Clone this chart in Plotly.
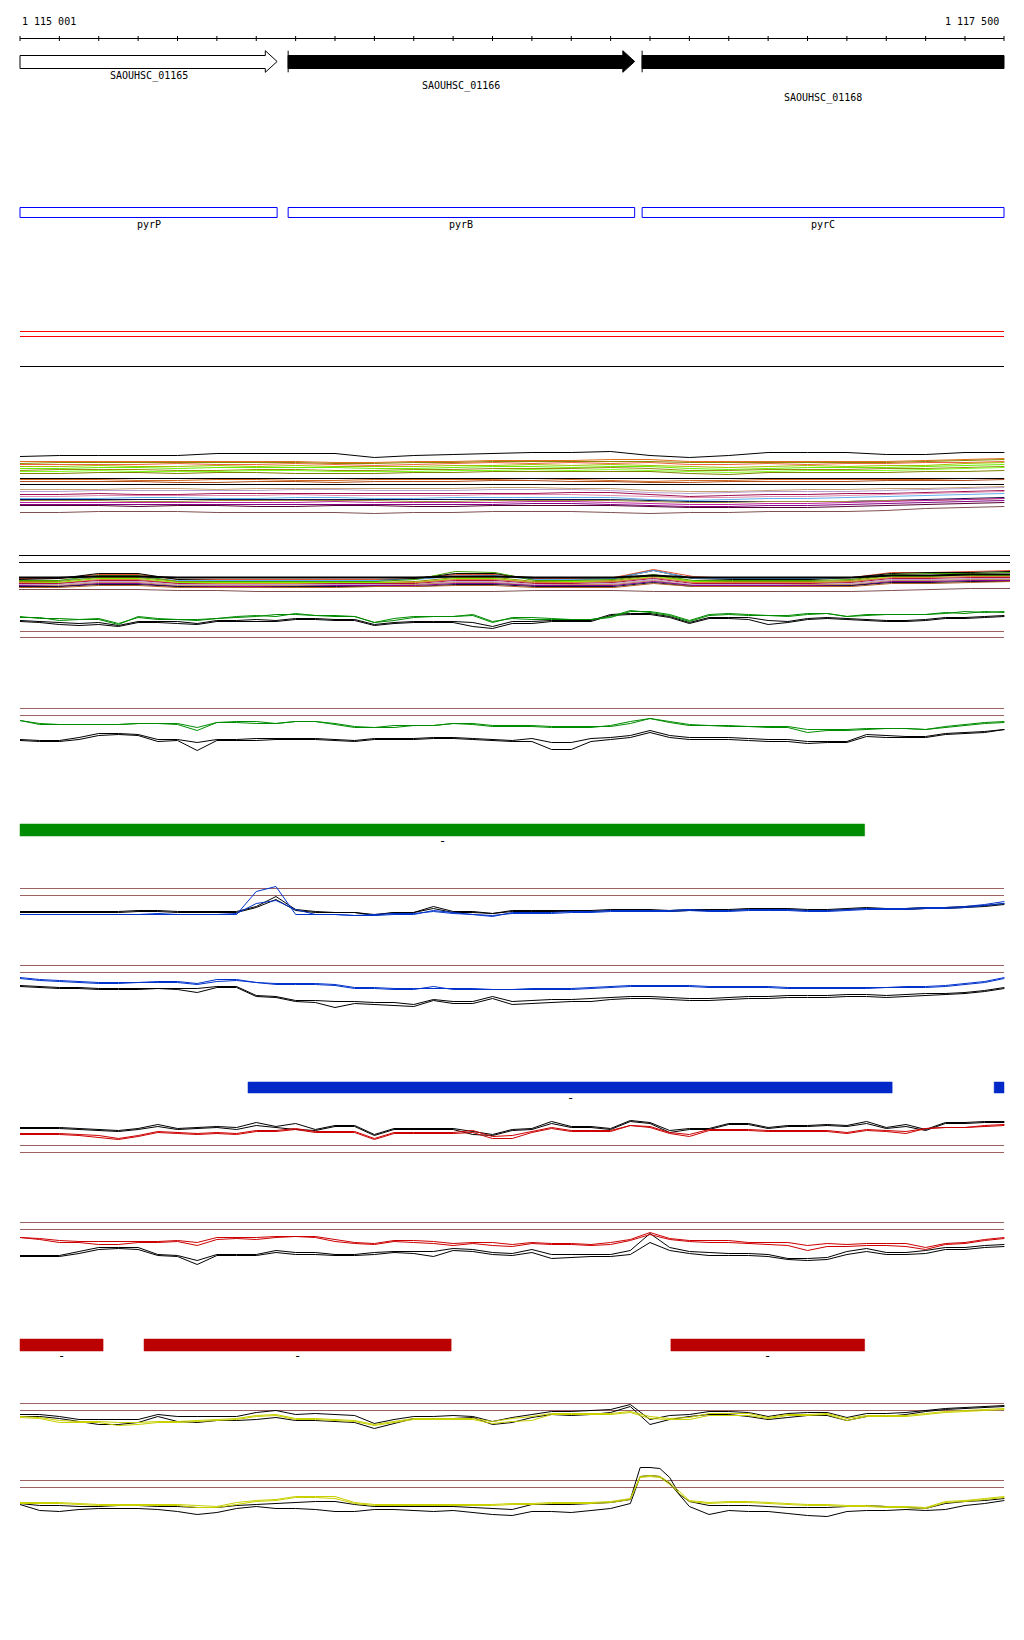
import plotly.graph_objects as go

# ======================= DATA =======================
VIEW_START, VIEW_END = 1115001, 1117500
ruler_labels = ["1 115 001", "1 117 500"]
ruler_ticks = list(range(1115001, 1117500, 100)) + [1117500]

gene_names = ["SAOUHSC_01165", "SAOUHSC_01166", "SAOUHSC_01168"]
gene_starts = [1114800, 1115682, 1116581]
gene_ends = [1115654, 1116562, 1117800]
gene_filled = [False, True, True]
gene_symbols = ["pyrP", "pyrB", "pyrC"]

green_starts = [1115001]
green_ends = [1117146]
blue_starts = [1115580, 1117475]
blue_ends = [1117216, 1117700]
red_starts = [1115001, 1115316, 1116654]
red_ends = [1115212, 1116096, 1117146]
feature_label = "-"

pos_fine = list(range(1115001, 1117502, 50))     # 51 positions
pos_coarse = list(range(1115001, 1117502, 100))  # 26 positions
pos_tJ = sorted(pos_fine + [1116576, 1116626, 1116676])  # extra samples on the peak

# --- multi-sample track A (values = depth below track top) ---
tA_top_black = [12, 11, 11, 11, 11, 9, 9, 9, 9, 13, 11, 10, 9, 8, 8, 7, 11, 13, 11, 8, 8, 8, 10, 10, 8, 8]
tA_refs = [34, 40]
tA_lines = [
    [17, 17, 17, 17, 17, 17, 17, 17, 18, 18, 17, 17, 16, 16, 16, 15, 15, 17, 17, 17, 17, 17, 17, 16, 15, 14],
    [19, 18, 18, 18, 18, 18, 18, 18, 19, 19, 18, 18, 17, 17, 17, 17, 17, 18, 18, 18, 18, 18, 18, 17, 16, 15],
    [20, 20, 20, 20, 19, 20, 20, 19, 20, 21, 20, 19, 18, 19, 18, 19, 18, 20, 20, 19, 20, 19, 19, 18, 18, 17],
    [22, 22, 21, 22, 22, 21, 22, 21, 22, 22, 22, 21, 21, 20, 21, 20, 21, 22, 23, 22, 21, 22, 21, 21, 19, 18],
    [24, 24, 23, 23, 24, 23, 23, 23, 23, 24, 24, 23, 22, 22, 23, 22, 22, 24, 25, 24, 23, 23, 23, 22, 21, 20],
    [26, 25, 25, 25, 26, 26, 25, 25, 26, 26, 25, 25, 24, 24, 24, 23, 24, 26, 26, 25, 25, 25, 24, 24, 23, 22],
    [27, 27, 26, 27, 27, 27, 26, 26, 27, 27, 27, 26, 26, 25, 26, 25, 26, 27, 28, 27, 26, 26, 26, 25, 24, 23],
    [29, 29, 28, 28, 29, 28, 28, 29, 29, 29, 28, 28, 27, 27, 27, 27, 27, 29, 30, 28, 28, 28, 28, 27, 27, 26],
    [35, 35, 35, 36, 36, 35, 35, 36, 36, 35, 35, 35, 35, 34, 35, 36, 37, 36, 36, 35, 35, 35, 35, 35, 34, 34],
    [37, 37, 37, 37, 38, 38, 37, 37, 38, 37, 37, 37, 36, 36, 37, 37, 38, 38, 37, 37, 37, 37, 36, 36, 36, 35],
    [45, 45, 45, 44, 44, 45, 44, 44, 44, 44, 44, 44, 43, 43, 44, 44, 46, 47, 47, 46, 45, 45, 44, 44, 43, 42],
    [47, 47, 46, 46, 46, 46, 46, 45, 45, 46, 46, 46, 45, 45, 45, 46, 48, 49, 48, 47, 47, 47, 46, 45, 44, 43],
    [50, 50, 49, 50, 50, 49, 49, 49, 49, 49, 49, 49, 49, 49, 48, 48, 50, 52, 51, 50, 50, 49, 49, 48, 47, 46],
    [52, 52, 51, 51, 51, 51, 51, 50, 51, 51, 51, 51, 50, 50, 50, 51, 52, 53, 53, 52, 52, 51, 50, 49, 48, 47],
    [54, 54, 54, 53, 53, 54, 54, 53, 53, 54, 54, 53, 53, 53, 53, 53, 55, 56, 55, 54, 54, 53, 52, 51, 50, 49],
    [55, 55, 55, 55, 55, 55, 55, 55, 55, 55, 55, 55, 55, 55, 55, 55, 56, 57, 57, 57, 57, 57, 56, 55, 54, 53],
    [56, 56, 56, 57, 57, 56, 56, 56, 56, 56, 57, 57, 56, 56, 56, 56, 57, 58, 58, 57, 57, 57, 56, 56, 55, 54],
    [58, 58, 58, 58, 58, 58, 58, 58, 57, 58, 58, 58, 58, 57, 57, 58, 59, 60, 60, 59, 59, 58, 57, 56, 55, 54],
    [60, 60, 60, 60, 60, 60, 60, 60, 60, 60, 60, 60, 60, 59, 59, 60, 61, 62, 62, 61, 61, 60, 59, 58, 57, 56],
    [61, 61, 61, 62, 61, 61, 62, 62, 61, 61, 62, 62, 61, 61, 61, 61, 62, 63, 63, 63, 63, 62, 61, 60, 59, 58],
    [68, 68, 67, 67, 67, 68, 68, 68, 68, 69, 68, 68, 67, 67, 67, 68, 69, 68, 68, 67, 67, 67, 66, 64, 63, 62],
]
tA_colors = ["#e07020", "#8a8a00", "#f06040", "#a0c000", "#66ee00", "#9a8a10", "#80ff20", "#808000",
             "#d2691e", "#b05020", "#c8a070", "#b8a0d0", "#a01050", "#e090b0", "#60b0f0", "#101050",
             "#a09040", "#c020a0", "#800080", "#500030", "#805050"]

# --- multi-sample track B ---
tB_refs = [11, 18]
tB_main = [33, 33, 32, 32, 33, 33, 33, 33, 33, 33, 33, 32, 32, 33, 33, 33, 31, 33, 33, 33, 33, 33, 31, 31, 30, 30]
tB_lines = [
    [34, 34, 30, 30, 35, 35, 35, 35, 35, 35, 34, 30, 30, 34, 34, 33, 25, 32, 34, 34, 34, 33, 28, 28, 27, 26],
    [35, 34, 29, 29, 35, 36, 36, 36, 36, 36, 34, 29, 29, 35, 35, 34, 26, 34, 35, 35, 35, 33, 29, 28, 28, 27],
    [36, 36, 33, 33, 36, 36, 36, 36, 36, 36, 35, 32, 31, 35, 35, 34, 26, 34, 34, 34, 34, 33, 31, 31, 30, 30],
    [36, 36, 31, 31, 37, 37, 37, 37, 37, 37, 35, 27, 28, 36, 36, 35, 30, 36, 36, 36, 36, 35, 30, 29, 29, 28],
    [37, 37, 33, 33, 37, 38, 38, 38, 38, 38, 37, 33, 33, 37, 37, 36, 31, 37, 37, 37, 37, 36, 31, 31, 30, 30],
    [38, 38, 34, 34, 38, 38, 38, 38, 38, 38, 38, 34, 34, 38, 37, 37, 32, 37, 38, 38, 38, 37, 32, 32, 31, 31],
    [38, 39, 35, 35, 39, 39, 39, 39, 39, 39, 38, 35, 35, 38, 38, 37, 33, 38, 38, 38, 38, 37, 33, 33, 32, 32],
    [39, 39, 36, 36, 39, 40, 40, 40, 39, 39, 39, 36, 36, 39, 39, 38, 34, 39, 39, 39, 39, 38, 34, 34, 33, 33],
    [40, 40, 37, 37, 40, 40, 40, 40, 40, 40, 40, 37, 37, 40, 40, 39, 35, 40, 40, 40, 40, 39, 35, 35, 34, 34],
    [41, 41, 38, 38, 41, 41, 41, 41, 41, 41, 40, 38, 38, 41, 40, 40, 36, 41, 41, 41, 40, 40, 36, 36, 35, 35],
    [41, 42, 39, 39, 42, 42, 42, 42, 41, 41, 41, 39, 39, 41, 41, 41, 37, 41, 41, 41, 41, 41, 37, 37, 36, 36],
    [42, 42, 40, 40, 42, 43, 43, 42, 42, 42, 42, 40, 40, 42, 42, 42, 38, 42, 42, 42, 42, 41, 38, 38, 37, 37],
    [43, 43, 41, 41, 43, 43, 43, 43, 43, 42, 42, 41, 41, 43, 43, 43, 39, 42, 42, 42, 42, 42, 39, 39, 38, 37],
    [45, 45, 45, 45, 46, 46, 47, 47, 47, 47, 47, 47, 47, 46, 46, 46, 47, 47, 47, 47, 47, 47, 46, 45, 44, 44],
]
tB_colors = ["#e05030", "black", "#60b0f0", "#40a000", "#909000", "#80f000", "#e08030",
             "#b01040", "#c0a0d0", "#c09060", "#900090", "#101040", "#b06020", "#805050"]

# --- paired replicate tracks (values = depth below track top) ---
tC_refs = [27, 33]
tC_green1 = [13, 13, 16, 15, 14, 19, 13, 15, 15, 15, 14, 12, 11, 12, 9, 11, 11, 12, 18, 14, 12, 12, 12, 11, 18, 13,
             13, 14, 15, 15, 13, 7, 7, 10, 16, 10, 9, 10, 11, 11, 9, 9, 12, 10, 10, 10, 10, 8, 9, 7, 8]
tC_green2 = [12, 14, 14, 15, 15, 20, 12, 14, 15, 16, 14, 13, 12, 10, 10, 11, 12, 12, 18, 16, 13, 12, 12, 10, 17, 14,
             15, 15, 15, 15, 12, 6, 8, 11, 17, 11, 10, 11, 11, 12, 10, 9, 12, 11, 10, 10, 10, 9, 7, 8, 7]
tC_black1 = [16, 17, 18, 19, 18, 21, 17, 17, 17, 19, 16, 16, 15, 16, 14, 14, 15, 15, 20, 18, 17, 17, 17, 18, 22, 17,
             17, 16, 16, 16, 10, 9, 9, 12, 18, 13, 13, 13, 16, 17, 14, 13, 14, 15, 16, 16, 15, 13, 13, 12, 11]
tC_black2 = [17, 18, 20, 21, 20, 22, 18, 18, 19, 20, 17, 17, 17, 17, 15, 15, 16, 16, 21, 19, 18, 18, 18, 22, 24, 19,
             19, 17, 17, 17, 11, 10, 10, 13, 19, 14, 14, 15, 20, 18, 15, 14, 15, 16, 17, 17, 16, 14, 14, 13, 12]

tD_refs = [9, 16]
tD_green1 = [21, 24, 25, 25, 25, 25, 24, 24, 24, 28, 23, 22, 22, 24, 22, 22, 24, 27, 28, 26, 26, 26, 24, 24, 26, 26,
             26, 27, 27, 27, 27, 24, 19, 22, 25, 26, 26, 27, 27, 27, 30, 30, 30, 29, 29, 29, 30, 28, 26, 24, 23]
tD_green2 = [21, 25, 25, 25, 25, 25, 24, 24, 25, 31, 23, 23, 24, 24, 22, 22, 25, 28, 28, 28, 26, 26, 24, 25, 27, 27,
             27, 28, 28, 28, 26, 22, 19, 23, 26, 26, 27, 27, 28, 28, 33, 31, 31, 30, 29, 29, 30, 27, 25, 23, 22]
tD_black1 = [40, 41, 41, 38, 34, 34, 35, 40, 40, 43, 40, 40, 39, 39, 39, 39, 40, 41, 39, 39, 39, 38, 38, 39, 40, 41,
             39, 43, 43, 39, 38, 36, 31, 36, 38, 38, 38, 39, 40, 40, 42, 42, 42, 35, 36, 37, 37, 34, 33, 32, 30]
tD_black2 = [41, 42, 42, 40, 36, 35, 36, 42, 41, 51, 41, 41, 41, 40, 40, 40, 41, 42, 40, 40, 40, 39, 39, 40, 41, 42,
             42, 50, 50, 42, 40, 38, 33, 38, 40, 40, 40, 41, 42, 42, 44, 43, 43, 37, 38, 38, 38, 35, 34, 33, 30]

tE_refs = [9, 16]
tE_blue1 = [35, 35, 35, 35, 35, 35, 35, 34, 35, 35, 35, 35, 12, 7, 35, 35, 35, 36, 36, 35, 35, 31, 33, 35, 37, 33,
            33, 33, 32, 32, 31, 31, 31, 31, 30, 31, 31, 30, 30, 30, 31, 31, 30, 29, 29, 29, 28, 28, 27, 25, 22]
tE_blue2 = [35, 35, 35, 35, 35, 35, 35, 35, 35, 35, 35, 34, 24, 21, 30, 35, 35, 36, 35, 34, 34, 32, 34, 35, 36, 34,
            34, 34, 33, 33, 32, 32, 32, 32, 31, 32, 32, 31, 31, 31, 32, 32, 31, 30, 30, 30, 29, 29, 28, 26, 24]
tE_black1 = [32, 32, 32, 32, 32, 32, 31, 31, 32, 32, 32, 32, 27, 17, 30, 32, 33, 33, 35, 33, 33, 27, 32, 32, 34, 31,
             31, 31, 31, 31, 30, 30, 30, 31, 30, 30, 30, 29, 29, 29, 30, 30, 29, 28, 29, 29, 28, 28, 27, 26, 24]
tE_black2 = [33, 33, 33, 33, 33, 33, 32, 32, 33, 33, 33, 33, 28, 20, 31, 33, 33, 33, 36, 33, 33, 29, 33, 33, 34, 32,
             32, 32, 32, 32, 31, 31, 31, 32, 31, 31, 31, 30, 30, 30, 31, 31, 30, 29, 30, 30, 29, 29, 28, 27, 25]

tF_refs = [11, 18]
tF_blue1 = [23, 25, 26, 27, 28, 28, 28, 27, 27, 29, 25, 25, 28, 29, 29, 29, 30, 33, 33, 34, 34, 34, 34, 34, 35, 35,
            34, 34, 34, 33, 32, 31, 31, 31, 31, 32, 32, 32, 32, 33, 33, 33, 33, 33, 33, 32, 32, 31, 29, 27, 23]
tF_blue2 = [24, 26, 27, 28, 29, 29, 28, 28, 28, 30, 27, 26, 28, 30, 30, 30, 31, 34, 34, 35, 35, 32, 35, 35, 35, 35,
            35, 35, 35, 34, 33, 32, 32, 32, 32, 33, 33, 33, 33, 34, 34, 34, 34, 34, 33, 33, 33, 32, 30, 28, 24]
tF_black1 = [31, 32, 33, 33, 34, 34, 34, 34, 34, 34, 32, 32, 41, 42, 46, 46, 47, 47, 48, 48, 50, 45, 47, 47, 42, 47,
             46, 45, 45, 44, 43, 42, 42, 43, 44, 44, 43, 42, 42, 41, 41, 41, 40, 40, 41, 40, 39, 39, 38, 36, 33]
tF_black2 = [32, 33, 34, 34, 35, 35, 35, 34, 35, 38, 33, 33, 42, 43, 47, 48, 53, 49, 50, 51, 52, 46, 49, 49, 44, 50,
             49, 48, 47, 47, 45, 44, 44, 45, 46, 46, 45, 44, 44, 43, 43, 43, 42, 42, 43, 42, 41, 40, 39, 37, 34]

tG_refs = [36, 43]
tG_black1 = [18, 18, 18, 19, 20, 21, 19, 15, 19, 18, 17, 18, 13, 17, 14, 20, 16, 16, 25, 19, 19, 19, 19, 22, 25, 20,
             19, 12, 17, 17, 19, 11, 13, 21, 19, 19, 14, 14, 18, 16, 16, 15, 16, 12, 18, 15, 20, 13, 13, 12, 12]
tG_black2 = [19, 19, 19, 20, 21, 22, 20, 17, 20, 19, 18, 20, 16, 18, 20, 21, 17, 17, 26, 20, 20, 20, 20, 25, 26, 21,
             20, 14, 18, 18, 20, 12, 14, 23, 20, 20, 15, 15, 19, 17, 17, 16, 17, 14, 19, 17, 21, 14, 14, 13, 13]
tG_red1 = [24, 24, 24, 25, 26, 29, 26, 22, 23, 24, 23, 24, 21, 21, 19, 22, 22, 22, 29, 23, 23, 23, 23, 21, 27, 26,
           22, 18, 21, 21, 21, 16, 17, 23, 25, 20, 20, 20, 21, 21, 21, 21, 23, 20, 21, 22, 19, 18, 18, 16, 15]
tG_red2 = [25, 25, 25, 26, 28, 30, 27, 23, 24, 25, 24, 25, 22, 22, 20, 23, 23, 23, 30, 24, 24, 24, 24, 23, 29, 29,
           23, 19, 22, 22, 22, 16, 18, 24, 27, 21, 21, 21, 22, 22, 22, 22, 24, 21, 22, 24, 19, 18, 18, 17, 16]

tH_refs = [8, 15]
tH_red1 = [23, 24, 26, 27, 27, 27, 27, 27, 26, 28, 23, 23, 23, 22, 22, 22, 25, 28, 29, 26, 26, 27, 29, 28, 28, 30,
           28, 29, 29, 30, 28, 25, 18, 24, 26, 26, 26, 28, 28, 28, 31, 29, 30, 29, 29, 29, 33, 29, 28, 25, 23]
tH_red2 = [23, 25, 28, 28, 30, 30, 28, 28, 27, 31, 25, 24, 25, 23, 22, 23, 27, 29, 30, 27, 28, 29, 31, 29, 31, 32,
           29, 30, 30, 31, 30, 26, 20, 25, 27, 28, 28, 29, 30, 31, 36, 32, 32, 31, 31, 32, 35, 30, 29, 26, 24]
tH_black1 = [41, 41, 41, 37, 33, 33, 33, 40, 41, 46, 40, 40, 40, 36, 38, 38, 40, 40, 38, 37, 37, 37, 34, 35, 38, 39,
             35, 40, 40, 40, 40, 36, 19, 33, 37, 38, 39, 39, 40, 44, 44, 43, 37, 34, 38, 38, 36, 33, 33, 31, 30]
tH_black2 = [42, 42, 42, 39, 35, 34, 35, 41, 42, 50, 41, 41, 41, 38, 40, 40, 41, 41, 40, 38, 39, 42, 36, 37, 40, 41,
             38, 44, 43, 42, 42, 40, 28, 36, 39, 41, 41, 41, 42, 45, 46, 45, 40, 37, 40, 40, 39, 35, 35, 33, 32]

tI_refs = [9, 16]
tI_yellow1 = [22, 23, 26, 27, 27, 28, 28, 27, 27, 26, 25, 24, 21, 20, 24, 24, 25, 26, 30, 27, 24, 24, 24, 24, 27, 24,
              22, 19, 19, 19, 19, 17, 22, 24, 23, 19, 19, 19, 23, 20, 20, 19, 24, 21, 21, 21, 19, 17, 16, 15, 14]
tI_yellow2 = [23, 24, 28, 28, 28, 31, 30, 28, 28, 27, 26, 25, 22, 21, 25, 25, 26, 27, 31, 28, 25, 25, 25, 25, 29, 27,
              26, 20, 20, 20, 20, 18, 24, 25, 25, 21, 21, 21, 24, 21, 21, 20, 26, 22, 22, 22, 20, 18, 17, 16, 15]
tI_black1 = [20, 20, 22, 25, 25, 25, 25, 20, 22, 22, 22, 22, 18, 16, 20, 19, 20, 21, 29, 25, 22, 22, 21, 22, 27, 23,
             20, 17, 17, 16, 15, 10, 25, 21, 20, 17, 17, 18, 22, 19, 18, 18, 23, 19, 19, 18, 16, 14, 13, 12, 11]
tI_black2 = [22, 22, 24, 27, 30, 30, 28, 22, 27, 28, 26, 26, 25, 23, 26, 26, 27, 28, 34, 29, 24, 24, 24, 23, 30, 28,
             23, 20, 21, 20, 18, 12, 30, 25, 22, 20, 20, 22, 25, 23, 21, 21, 26, 22, 22, 20, 17, 15, 14, 13, 12]

tJ_refs = [21, 28]
tJ_yellow1 = [43, 43, 43, 44, 45, 45, 45, 45, 45, 46, 47, 43, 41, 40, 37, 37, 37, 43, 45, 45, 45, 45, 45, 45, 45, 44,
              44, 43, 43, 43, 42, 39, 17, 16, 17, 23, 32, 41, 43, 42, 42, 43, 44, 45, 45, 46, 46, 47, 47, 48, 42, 41, 39, 37]
tJ_yellow2 = [44, 44, 44, 45, 46, 46, 46, 46, 46, 48, 48, 45, 42, 41, 38, 38, 39, 44, 46, 46, 46, 46, 46, 46, 46, 45,
              45, 44, 44, 44, 43, 40, 18, 17, 18, 25, 34, 42, 44, 43, 43, 44, 45, 46, 46, 47, 47, 48, 48, 49, 43, 42, 40, 38]
tJ_black1 = [44, 46, 46, 47, 47, 46, 46, 47, 47, 48, 48, 46, 45, 44, 43, 42, 42, 45, 47, 47, 47, 47, 47, 48, 49, 50,
             45, 45, 45, 44, 43, 40, 8, 8, 9, 18, 35, 42, 46, 46, 46, 47, 48, 48, 48, 47, 46, 47, 48, 49, 44, 42, 41, 39]
tJ_black2 = [45, 51, 52, 50, 49, 49, 49, 50, 52, 55, 53, 49, 47, 49, 49, 50, 52, 52, 50, 50, 51, 52, 51, 53, 55, 56,
             52, 52, 53, 51, 49, 44, 17, 16, 17, 24, 36, 47, 55, 51, 52, 52, 54, 56, 57, 52, 51, 51, 50, 51, 50, 46, 44, 41]

# ======================= DRAWING =======================
PAGE_MARGIN = 8                      # default body margin of the html page
W, H = 1024 - PAGE_MARGIN, 1640 - PAGE_MARGIN
PX_LEFT, PX_RIGHT = 20 - PAGE_MARGIN, 1004 - PAGE_MARGIN
BP_PER_PX = (VIEW_END - VIEW_START) / (PX_RIGHT - PX_LEFT)
XRANGE = [VIEW_START - PX_LEFT * BP_PER_PX, VIEW_END + (W - PX_RIGHT) * BP_PER_PX]
FONT = dict(family="DejaVu Sans Mono", size=10, color="black")
DASH_FONT = dict(family="DejaVu Sans Mono", size=12, color="black")
BROWN = "#9c6262"
GREEN = "#008c00"
BLUE_LINE = "#0033cc"
RED_LINE = "#cc0000"
YELLOW = "#c8d000"

fig = go.Figure()
axes = {}
annotations = []


def track(top, height, xref="x"):
    top = top - PAGE_MARGIN
    n = len(axes) + 1
    key = "yaxis" if n == 1 else f"yaxis{n}"
    axes[key] = dict(domain=[max(0, 1 - (top + height) / H), min(1, 1 - top / H)],
                     range=[height, 0], visible=False, fixedrange=True, anchor=xref)
    return "y" if n == 1 else f"y{n}"


def add_line(xs, ys, yref, color, width=1, xref="x", fill=None, fillcolor=None):
    fig.add_trace(go.Scatter(x=xs, y=ys, mode="lines", xaxis=xref, yaxis=yref,
                             line=dict(color=color, width=width), fill=fill,
                             fillcolor=fillcolor, hoverinfo="skip", showlegend=False))


def label(x, y, yref, text, xanchor="center", xshift=0, font=FONT):
    annotations.append(dict(x=x, y=y, xref="x", yref=yref, text=text, showarrow=False,
                            font=font, xanchor=xanchor, yanchor="middle", xshift=xshift))


def refs(values, yref, color, xref="x"):
    for v in values:
        add_line([VIEW_START, VIEW_END], [v, v], yref, color, xref=xref)


def visible_span(s, e):
    return max(s, VIEW_START), min(e, VIEW_END)


# ---- ruler ----
yr = track(8, 40)
add_line([VIEW_START, VIEW_END], [30.5, 30.5], yr, "black")
tx, ty = [], []
for t in ruler_ticks:
    tx += [t, t, None]
    ty += [28, 33, None]
add_line(tx, ty, yr, "black")
label(VIEW_START, 13, yr, ruler_labels[0], xanchor="left")
label(VIEW_END, 13, yr, ruler_labels[1], xanchor="right", xshift=-3)

# ---- genes ----
yg = track(45, 60)
HEAD = 30
label_rows = [31, 40.5, 52.5]
for i, name in enumerate(gene_names):
    s, e = gene_starts[i], gene_ends[i]
    vs, ve = visible_span(s, e)
    fillc = "black" if gene_filled[i] else "white"
    if e <= VIEW_END:
        hx = e - HEAD
        xs = [vs, hx, hx, e, hx, hx, vs, vs]
        ys = [10.5, 10.5, 5.7, 16.5, 27.3, 23.5, 23.5, 10.5]
    else:
        xs = [vs, ve, ve, vs, vs]
        ys = [10.5, 10.5, 23.5, 23.5, 10.5]
    add_line(xs, ys, yg, "black", width=1, fill="toself", fillcolor=fillc)
    if s >= VIEW_START:
        add_line([s, s], [5.7, 27.3], yg, "black")
    label((vs + ve) / 2, label_rows[i], yg, name)

# ---- gene symbol boxes ----
yb = track(200, 30)
for i, sym in enumerate(gene_symbols):
    vs, ve = visible_span(gene_starts[i], gene_ends[i])
    add_line([vs, ve, ve, vs, vs], [7.5, 7.5, 17.5, 17.5, 7.5], yb, "#0000ff")
    label((vs + ve) / 2, 24.3, yb, sym)

# ---- empty reference track ----
yrt = track(325, 45)
refs([6.5, 11.5], yrt, "#ff0000")
refs([41.5], yrt, "black")


def profile(yref, series, colors, xs, xref="x"):
    for j, vals in enumerate(series):
        add_line(xs, vals, yref, colors[j], xref=xref)


# data tracks sit half a pixel up so that whole-number values fall on pixel centres
HALF = 0.5

# ---- track A ----
ya = track(445 - HALF, 75)
profile(ya, tA_lines, tA_colors, pos_coarse)
refs(tA_refs, ya, "black")
add_line(pos_coarse, tA_top_black, ya, "black")

# ---- track B (slightly wider panel) ----
yBt = track(545 - HALF, 55, xref="x2")
profile(yBt, tB_lines, tB_colors, pos_coarse, xref="x2")
refs(tB_refs, yBt, "black", xref="x2")
add_line(pos_coarse, tB_main, yBt, "black", width=2, xref="x2")


# ---- paired tracks ----
def paired(top, height, ref_vals, s1, s2, b1, b2, color, xs=pos_fine):
    y = track(top - HALF, height)
    refs(ref_vals, y, BROWN)
    add_line(xs, b1, y, "black")
    add_line(xs, b2, y, "black")
    add_line(xs, s1, y, color)
    add_line(xs, s2, y, color)
    return y


def bars(top, starts, ends, color, y0, y1):
    y = track(top, 35)
    for s, e in zip(starts, ends):
        vs, ve = visible_span(s, e)
        add_line([vs, ve, ve, vs, vs], [y0, y0, y1, y1, y0], y, color, width=0.5,
                 fill="toself", fillcolor=color)
        if (ve - vs) / BP_PER_PX > 20:
            label((vs + ve) / 2, y1 + 5, y, feature_label, font=DASH_FONT)
    return y


paired(605, 35, tC_refs, tC_green1, tC_green2, tC_black1, tC_black2, GREEN)
paired(700, 60, tD_refs, tD_green1, tD_green2, tD_black1, tD_black2, GREEN)
bars(815, green_starts, green_ends, GREEN, 9, 21)
paired(880, 45, tE_refs, tE_blue1, tE_blue2, tE_black1, tE_black2, BLUE_LINE)
paired(955, 60, tF_refs, tF_blue1, tF_blue2, tF_black1, tF_black2, BLUE_LINE)
bars(1073, blue_starts, blue_ends, "#0029c8", 9, 20)
paired(1110, 50, tG_refs, tG_red1, tG_red2, tG_black1, tG_black2, RED_LINE)
paired(1215, 55, tH_refs, tH_red1, tH_red2, tH_black1, tH_black2, RED_LINE)
bars(1330, red_starts, red_ends, "#bb0000", 9, 21)
paired(1395, 45, tI_refs, tI_yellow1, tI_yellow2, tI_black1, tI_black2, YELLOW)
paired(1460, 65, tJ_refs, tJ_yellow1, tJ_yellow2, tJ_black1, tJ_black2, YELLOW, xs=pos_tJ)

layout = dict(
    width=W, height=H, margin=dict(l=0, r=0, t=0, b=0),
    paper_bgcolor="white", plot_bgcolor="white", showlegend=False,
    xaxis=dict(domain=[0, 1], range=XRANGE, visible=False, fixedrange=True),
    xaxis2=dict(domain=[(19 - PAGE_MARGIN) / W, (1010 - PAGE_MARGIN) / W],
                range=[VIEW_START, VIEW_END], visible=False, fixedrange=True, anchor=yBt),
    annotations=annotations,
)
layout.update(axes)
fig.update_layout(**layout)
fig.write_html("out.html", config={"displayModeBar": False})
